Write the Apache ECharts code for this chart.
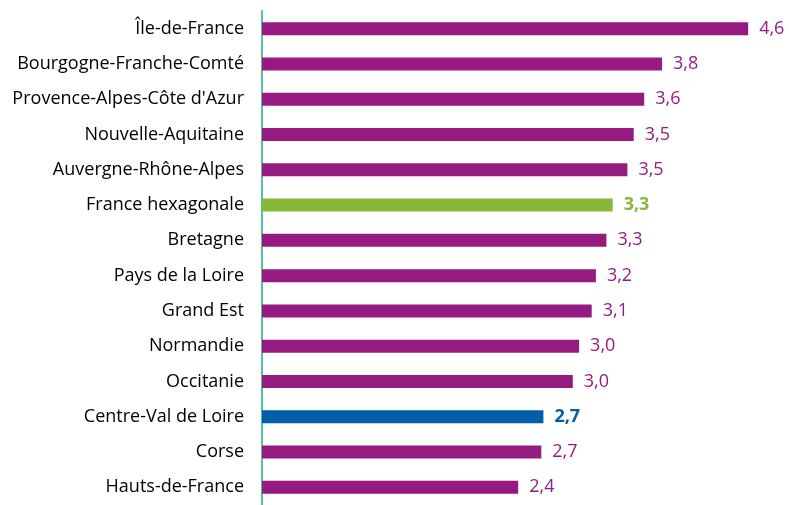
<!DOCTYPE html>
<html>
<head>
<meta charset="utf-8">
<script src="https://cdn.jsdelivr.net/npm/echarts@6/dist/echarts.min.js"></script>
<style>
  html, body { margin: 0; padding: 0; background: #fff; }
  #main { width: 789px; height: 505px; }
</style>
</head>
<body>
<div id="main"></div>
<script>
// régions, du haut vers le bas
var regions = ['Île-de-France', 'Bourgogne-Franche-Comté', "Provence-Alpes-Côte d'Azur",
  'Nouvelle-Aquitaine', 'Auvergne-Rhône-Alpes', 'France hexagonale', 'Bretagne',
  'Pays de la Loire', 'Grand Est', 'Normandie', 'Occitanie', 'Centre-Val de Loire',
  'Corse', 'Hauts-de-France'];
var values = [4.63, 3.81, 3.64, 3.54, 3.48, 3.34, 3.28, 3.18, 3.14, 3.02, 2.96, 2.68, 2.66, 2.44];
var highlight = { 'France hexagonale': '#84B73A', 'Centre-Val de Loire': '#005DA7' };

var purple = '#951B81';
var chartDom = document.getElementById('main');
var myChart = echarts.init(chartDom);
var option;
option = {
    animation: false,
    grid: { left: 262, right: 2, top: 11, bottom: -4 },
    xAxis: {
        type: 'value', min: 0, max: 5, show: false
    },
    yAxis: {
        type: 'category',
        inverse: true,
        data: regions,
        axisTick: { show: false },
        axisLine: { show: true, lineStyle: { color: '#55BFA2', width: 2 } },
        axisLabel: { color: '#000', fontFamily: 'Open Sans', fontSize: 18, margin: 18 }
    },
    series: [{
        type: 'bar',
        barWidth: 13,
        data: values.map(function (v, i) {
            var c = highlight[regions[i]];
            return {
                value: v,
                itemStyle: { color: c || purple },
                label: c ? { color: c, fontWeight: 'bold' } : {}
            };
        }),
        label: {
            show: true,
            position: 'right',
            distance: 11,
            color: purple,
            fontFamily: 'Open Sans',
            fontSize: 18,
            formatter: function (p) { return p.value.toFixed(1).replace('.', ','); }
        }
    }]
};
option && myChart.setOption(option);
</script>
</body>
</html>
